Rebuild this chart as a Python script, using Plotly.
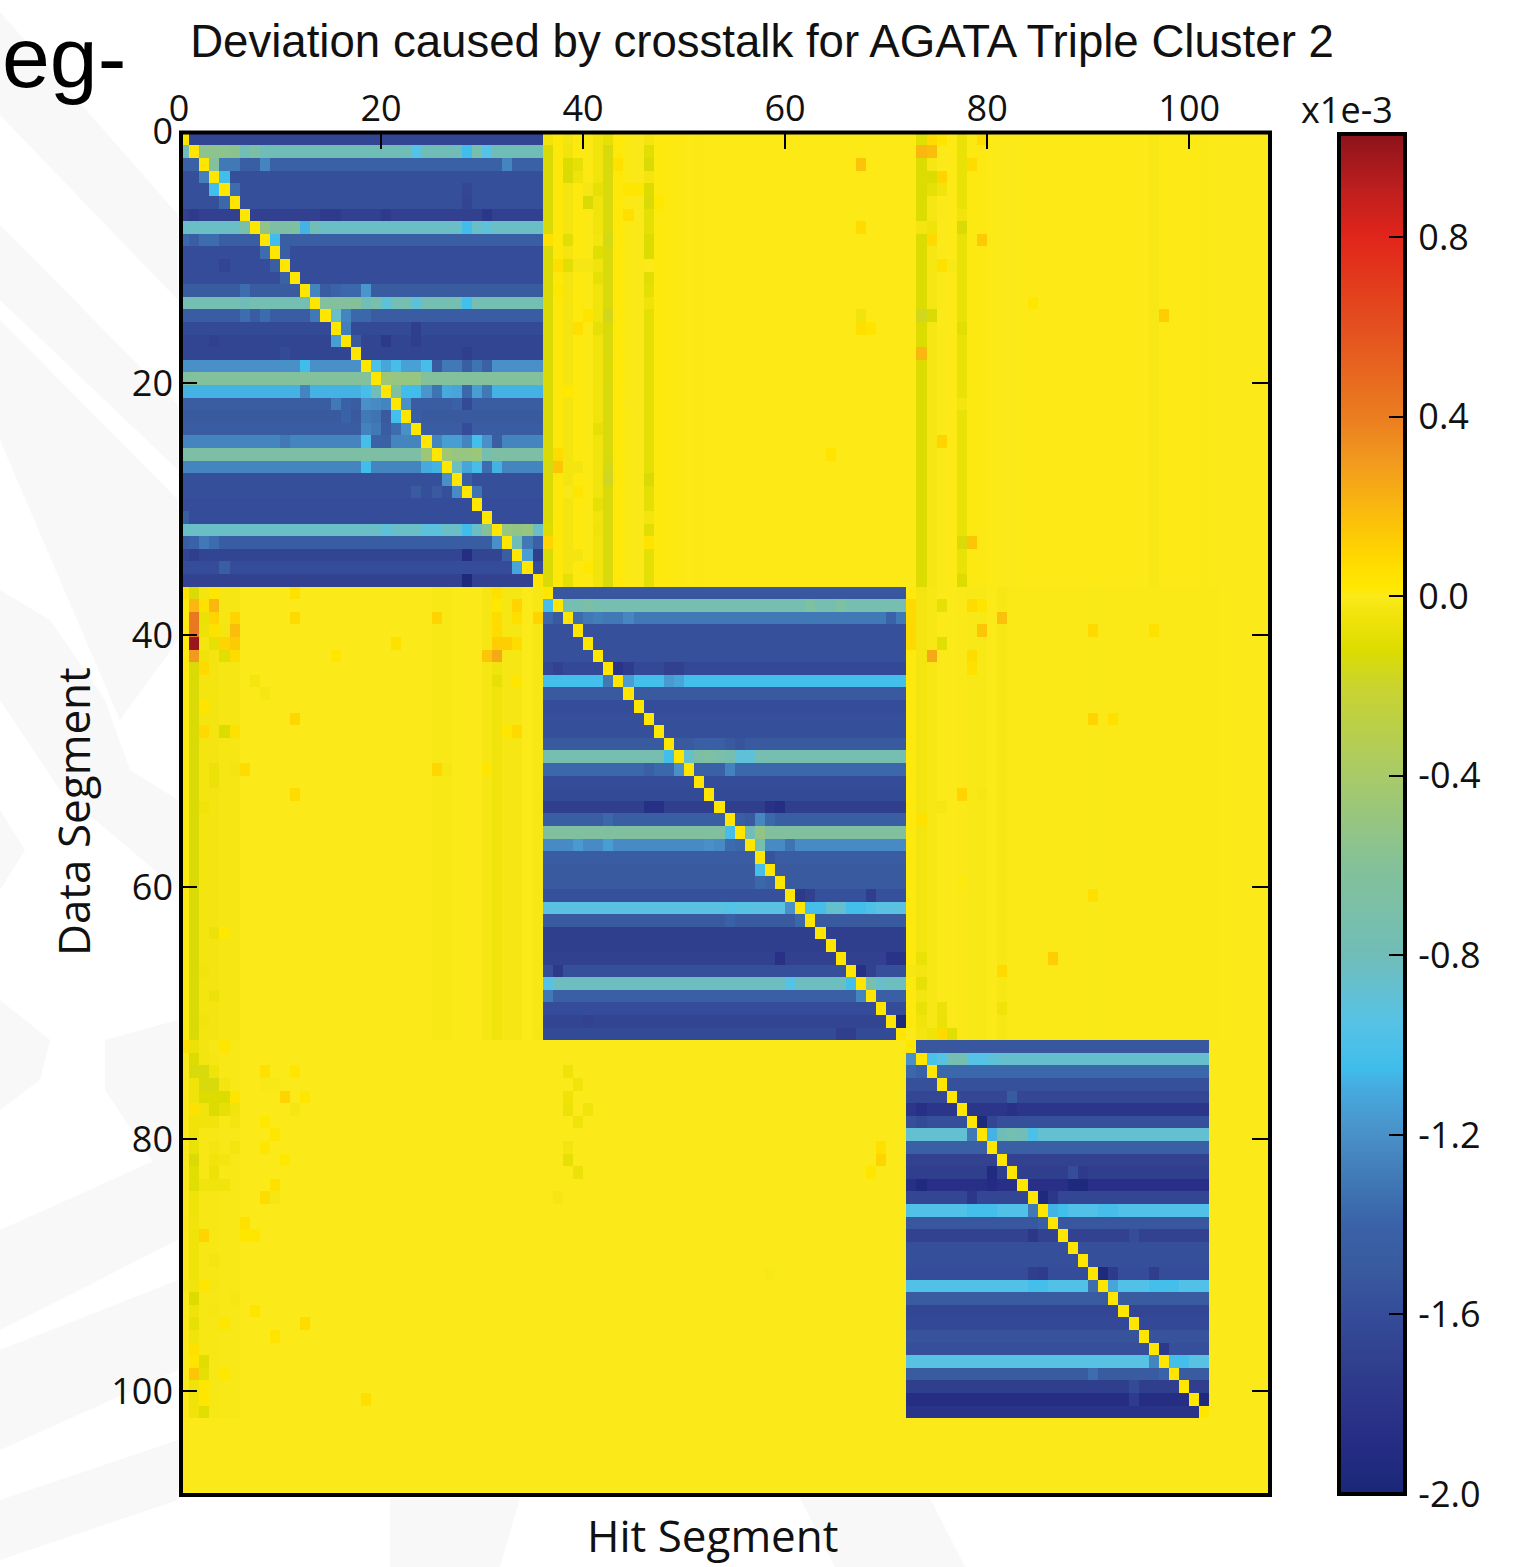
import plotly.graph_objects as go

W, H = 1527, 1567
N = 108
TITLE = "Deviation caused by crosstalk for AGATA Triple Cluster 2"
X_LABEL = "Hit Segment"
Y_LABEL = "Data Segment"
AXIS_TICKS = [0, 20, 40, 60, 80, 100]
BAR_TICKS = [0.8, 0.4, 0.0, -0.4, -0.8, -1.2, -1.6, -2.0]
BAR_LABELS = ["0.8", "0.4", "0.0", "-0.4", "-0.8", "-1.2", "-1.6", "-2.0"]
Z_MIN, Z_MAX = -2.0, 1.03
DIAGONAL = 0.03

# Level of each row inside the three crosstalk blocks
BLOCK1_ROWS = [-1.66, -0.8, -1.42, -1.58, -1.58, -1.58, -1.7, -0.84, -1.45, -1.6, -1.6, -1.6,
               -1.48, -0.76, -1.47, -1.62, -1.66, -1.66, -1.2, -0.62, -1.08, -1.47, -1.5, -1.47,
               -1.25, -0.68, -1.25, -1.58, -1.58, -1.6, -1.6, -0.84, -1.46, -1.66, -1.6, -1.68]
BLOCK2_ROWS = [-1.52, -0.75, -1.3, -1.57, -1.57, -1.57, -1.63, -1.03, -1.5, -1.6, -1.58, -1.58,
               -1.5, -0.74, -1.38, -1.6, -1.62, -1.72, -1.45, -0.63, -1.22, -1.47, -1.5, -1.5,
               -1.57, -0.93, -1.5, -1.72, -1.72, -1.7, -1.58, -0.82, -1.44, -1.6, -1.66, -1.62]
BLOCK3_ROWS = [-1.52, -0.86, -1.38, -1.57, -1.64, -1.8, -1.58, -0.88, -1.44, -1.68, -1.72, -1.85,
               -1.65, -0.97, -1.52, -1.68, -1.58, -1.58, -1.6, -0.97, -1.48, -1.65, -1.63, -1.55,
               -1.58, -0.94, -1.48, -1.72, -1.88, -1.82]

# Column levels of the near-zero regions
TOP_RIGHT_COLS = [-.13, .012, -.03, .01, .005, -.04, -.14, .012, .005, -.005, -.09, .01, .008, .005, .003, .005, .003, .003,
                  .003, .003, .003, .003, .003, .003, .003, .003, .003, .003, .003, .003, .003, .003, .003, .003, .003, .003,
                  .003, -.12, -.02, 0, .003, -.07, .006, .005, .003, -.002, -.002, .003, .003, .003, .003, .003, .003, .003,
                  .003, .003, .003, .003, .003, .003, -.015, .003, .003, .003, .003, .002, 0, 0, 0, 0, 0, 0]
MID_LEFT_COLS = [.01, -.13, -.03, -.03, -.02, -.02, 0, 0, 0, 0, 0, 0, 0, 0, 0, 0, 0, 0,
                 0, 0, 0, 0, 0, 0, 0, -.012, -.012, 0, 0, 0, -.02, -.04, -.02, -.02, 0, -.015]
MID_RIGHT_COLS = [.01, -.03, -.015, 0, 0, -.005, -.01, -.012, 0, -.015, .002, .002, .002, .002, .002, .002, .002, .002,
                  -.003, .002, .002, .002, .002, .002, .002, .002, .002, .002, .002, .002, .002, 0, 0, 0, 0, 0]
LOW_LEFT_COLS = [-.005, -.05, -.015, -.015, -.01, -.01] + [0] * 66

# Individual cells: (row, column, value)
BLOCK1_CELLS = [
    (1, 2, -.55), (1, 3, -.55), (1, 4, -.55), (1, 5, -.56), (1, 6, -.78), (1, 7, -.68), (1, 23, -.95), (1, 28, -1.05), (1, 30, -.95), (1, 29, -.72),
    (2, 3, -.62), (2, 4, -1.3), (2, 5, -1.3), (2, 8, -1.25), (2, 32, -1.25), (2, 6, -1.45), (2, 7, -1.45),
    (3, 2, -1.27), (3, 4, -1.04), (4, 3, -1.04), (4, 5, -1.35), (5, 4, -1.38), (5, 28, -1.66), (4, 28, -1.64),
    (6, 1, -1.75), (6, 20, -1.75), (6, 30, -1.78), (6, 14, -1.75), (6, 15, -1.75),
    (7, 6, -.7), (7, 8, -.52), (7, 9, -.68), (7, 10, -.68), (7, 11, -.66), (7, 12, -1.08), (7, 13, -.78), (7, 28, -1.05), (7, 30, -.9),
    (8, 2, -1.35), (8, 3, -1.35), (8, 9, -1.05), (8, 10, -1.45), (8, 11, -1.45), (8, 0, -1.38),
    (9, 8, -1.35), (9, 10, -1.45), (10, 4, -1.66), (10, 9, -1.45), (11, 10, -1.42),
    (12, 6, -1.35), (12, 13, -1.25), (12, 15, -1.4), (12, 16, -1.38), (12, 17, -1.38), (12, 18, -1.18),
    (13, 6, -.8), (13, 14, -.62), (13, 15, -.62), (13, 16, -.62), (13, 17, -.6), (13, 18, -.78), (13, 19, -.72), (13, 20, -.9), (13, 23, -.9), (13, 28, -1.03),
    (14, 6, -1.35), (14, 8, -1.36), (14, 13, -1.3), (14, 15, -.85), (14, 16, -1.25), (14, 17, -1.38), (14, 18, -1.38),
    (15, 16, -1.28), (15, 23, -1.72), (16, 15, -1.15), (16, 17, -1.5), (16, 20, -1.76), (16, 23, -1.72), (16, 3, -1.7),
    (17, 28, -1.72), (17, 10, -1.62),
    (18, 12, -1.05), (18, 19, -1.0), (18, 20, -1.12), (18, 21, -1.02), (18, 22, -1.14), (18, 23, -1.14), (18, 24, -1.02), (18, 25, -1.5), (18, 26, -1.3), (18, 27, -1.3), (18, 28, -1.45), (18, 29, -1.32), (18, 30, -1.42),
    (19, 20, -.46), (19, 21, -.5), (19, 22, -.5), (19, 23, -.5), (19, 0, -.64),
    (20, 12, -1.25), (20, 18, -1.02), (20, 19, -.78), (20, 21, -.65), (20, 22, -1.05), (20, 23, -1.05), (20, 24, -1.18), (20, 25, -1.32), (20, 26, -1.1), (20, 27, -1.12), (20, 28, -1.38), (20, 29, -1.15), (20, 30, -1.3),
    (21, 15, -1.3), (21, 16, -1.42), (21, 18, -1.2), (21, 19, -1.22), (21, 20, -1.25), (21, 22, -1.2), (21, 27, -1.42), (21, 28, -1.62),
    (22, 16, -1.4), (22, 18, -1.3), (22, 19, -1.32), (22, 21, -1.03), (22, 23, -1.45),
    (23, 18, -1.26), (23, 19, -1.3), (23, 21, -1.35), (23, 22, -1.2), (23, 28, -1.6),
    (24, 10, -1.3), (24, 18, -1.02), (24, 19, -1.4), (24, 20, -1.42), (24, 25, -1.25), (24, 26, -1.15), (24, 27, -1.15), (24, 28, -1.25), (24, 29, -1.03), (24, 30, -1.2), (24, 31, -1.45),
    (25, 24, -.46), (25, 26, -.45), (25, 27, -.5), (25, 28, -.5), (25, 29, -.47), (25, 30, -.75),
    (26, 18, -1.05), (26, 24, -1.1), (26, 25, -1.08), (26, 27, -.82), (26, 28, -1.12), (26, 29, -1.02), (26, 31, -1.08), (26, 30, -1.35),
    (27, 26, -1.2), (27, 28, -1.45), (28, 23, -1.5), (28, 25, -1.5), (28, 27, -1.22), (28, 29, -1.32),
    (30, 0, -1.45),
    (31, 20, -.9), (31, 24, -.92), (31, 25, -.92), (31, 28, -1.05), (31, 30, -.6), (31, 32, -.5), (31, 33, -.52), (31, 34, -.5),
    (32, 1, -1.4), (32, 2, -1.3), (32, 3, -1.36), (32, 31, -1.2), (32, 33, -.8), (32, 34, -1.3), (32, 35, -1.42),
    (33, 28, -1.88), (33, 32, -1.45), (33, 34, -1.15), (33, 35, -1.72), (33, 1, -1.72),
    (34, 4, -1.45), (34, 33, -1.12), (35, 28, -1.95),
]
BLOCK2_CELLS = [
    (37, 36, -1.02), (37, 40, -.68), (37, 62, -.66), (37, 65, -.66),
    (38, 36, -1.38), (38, 37, -1.5), (38, 39, -1.36), (38, 41, -1.28), (38, 44, -1.24), (38, 70, -1.4),
    (42, 37, -1.68), (42, 43, -1.82), (42, 44, -1.74), (42, 48, -1.7), (42, 49, -1.7),
    (43, 42, -1.3), (43, 44, -1.15), (43, 48, -1.16), (43, 49, -1.12),
    (44, 42, -1.5), (48, 51, -1.44), (48, 52, -1.44), (48, 53, -1.44), (48, 55, -1.55),
    (49, 48, -1.04), (49, 50, -.86), (49, 55, -.9), (49, 56, -.9), (49, 51, -.68), (49, 52, -.66), (49, 53, -.7),
    (50, 49, -1.2), (50, 51, -1.42), (50, 52, -1.42), (50, 53, -1.42), (50, 54, -1.26), (50, 46, -1.44),
    (53, 46, -1.86), (53, 47, -1.86), (53, 58, -1.84), (53, 59, -1.88),
    (54, 42, -1.38), (54, 56, -1.5), (54, 57, -1.24), (54, 58, -1.38),
    (55, 54, -1.02), (55, 56, -.78), (55, 57, -.52),
    (56, 39, -1.16), (56, 42, -1.15), (56, 52, -1.2), (56, 53, -1.22), (56, 54, -1.36), (56, 55, -1.38), (56, 57, -.75), (56, 58, -1.22), (56, 59, -1.22), (56, 60, -1.32),
    (57, 58, -1.55), (58, 57, -1.02), (59, 57, -1.38), (59, 58, -1.4),
    (60, 61, -1.76), (60, 62, -1.7), (60, 68, -1.72),
    (61, 54, -.96), (61, 55, -.94), (61, 56, -.94), (61, 60, -1.2), (61, 62, -1.02), (61, 63, -1.02), (61, 64, -.86), (61, 65, -.86), (61, 66, -1.03), (61, 67, -1.03), (61, 68, -.98),
    (62, 54, -1.42), (62, 61, -1.38), (65, 59, -1.84), (65, 70, -1.82), (65, 71, -1.82),
    (66, 37, -1.76), (66, 67, -1.86), (66, 68, -1.7),
    (67, 36, -.95), (67, 60, -.95), (67, 66, -1.03), (67, 68, -.72), (67, 69, -.85),
    (68, 36, -1.3), (68, 67, -1.25), (70, 71, -1.96), (70, 40, -1.68), (71, 65, -1.72), (71, 66, -1.72),
]
BLOCK3_CELLS = [
    (73, 72, -1.2), (73, 74, -1.0), (73, 75, -.94), (73, 76, -.76), (73, 77, -.76), (73, 78, -.95), (73, 79, -.95), (73, 80, -.9),
    (74, 73, -1.42), (76, 82, -1.48), (77, 82, -1.84), (77, 73, -1.85),
    (78, 79, -1.96), (78, 80, -1.65), (78, 73, -1.62),
    (79, 78, -1.3), (79, 80, -1.08), (79, 81, -.8), (79, 82, -.76), (79, 83, -.78), (79, 84, -1.0), (79, 91, -.88),
    (82, 80, -1.92), (82, 88, -1.6), (82, 89, -1.75), (83, 73, -1.93), (83, 88, -1.96), (83, 89, -1.96), (83, 80, -1.9),
    (84, 85, -1.96), (84, 86, -1.78), (84, 78, -1.78),
    (85, 78, -1.03), (85, 79, -1.03), (85, 80, -1.03), (85, 84, -1.3), (85, 86, -1.08), (85, 87, -1.04), (85, 91, -1.02), (85, 92, -1.02),
    (86, 85, -1.45), (87, 84, -1.78), (87, 94, -1.6), (90, 84, -1.72), (90, 85, -1.74), (90, 91, -1.96), (90, 92, -1.75), (90, 96, -1.72),
    (91, 84, -1.03), (91, 85, -1.03), (91, 90, -1.35), (91, 92, -1.12), (91, 96, -1.03), (91, 97, -1.03), (91, 98, -1.03),
    (96, 97, -1.76), (97, 96, -1.25), (97, 98, -1.03), (97, 99, -1.03),
    (98, 90, -1.35), (98, 97, -1.4), (99, 94, -1.62), (100, 94, -1.74), (100, 101, -1.95),
]
TOP_RIGHT_CELLS = [
    (0, 36, -.04), (0, 42, -.08), (0, 46, -.03), (0, 73, -.1), (0, 74, .07), (0, 75, .04), (0, 79, .07),
    (1, 38, -.04), (1, 46, -.1), (1, 73, .2), (1, 74, .18), (1, 77, -.07),
    (2, 38, -.12), (2, 39, -.08), (2, 43, .05), (2, 46, -.13), (2, 67, .16), (2, 78, .07),
    (3, 38, -.13), (3, 39, -.05), (3, 74, -.12), (3, 75, .1), (3, 46, -.03),
    (4, 40, -.02), (4, 41, -.08), (4, 44, .03), (4, 45, .03), (4, 46, -.12), (4, 74, -.08), (4, 75, -.04),
    (5, 40, -.13), (5, 46, -.13), (5, 47, .02), (6, 38, -.03), (6, 44, .06), (6, 77, -.04),
    (7, 67, .07), (7, 73, -.03), (7, 74, -.05), (7, 77, -.13),
    (8, 36, .05), (8, 38, -.1), (8, 41, -.03), (8, 42, -.16), (8, 46, -.12), (8, 74, .08), (8, 79, .13),
    (9, 41, -.1), (9, 46, -.12), (10, 37, .06), (10, 38, -.1), (10, 39, -.02), (10, 40, -.02), (10, 46, 0), (10, 75, .05), (10, 76, -.01),
    (11, 46, -.1), (11, 41, -.08), (12, 37, .03), (13, 84, .03), (13, 46, -.05),
    (14, 42, -.17), (14, 40, .04), (14, 73, -.17), (14, 74, -.13), (14, 97, .12), (14, 67, -.04),
    (15, 39, .06), (15, 41, -.08), (15, 67, .06), (15, 68, .04), (15, 77, -.1),
    (17, 73, .2), (17, 74, -.02), (18, 42, -.13), (20, 38, .02), (21, 44, -.005), (21, 77, -.03),
    (23, 41, -.08), (25, 37, .07), (25, 64, .04), (26, 36, -.14), (26, 37, .15), (26, 39, -.03), (26, 42, -.16), (24, 75, .1),
    (27, 42, -.18), (27, 46, -.13), (29, 41, -.08), (28, 38, -.01), (28, 39, .03), (30, 46, -.03),
    (31, 36, -.12), (31, 41, -.05), (31, 46, -.1), (31, 74, -.02), (32, 36, .1), (32, 46, .04), (32, 77, -.13), (32, 78, .15),
    (33, 39, -.03), (34, 40, .02), (35, 38, -.08), (35, 46, -.09), (35, 77, -.12), (35, 42, -.14),
]
MID_CELLS = [
    (36, 0, .05), (36, 3, .03), (36, 4, -.02), (36, 11, .05), (36, 31, .05),
    (37, 1, .2), (37, 2, .05), (37, 3, .2), (37, 33, .1), (37, 31, .02), (37, 72, .08), (37, 75, -.08), (37, 78, .07), (37, 79, .04),
    (38, 1, .42), (38, 2, -.07), (38, 3, .1), (38, 5, .1), (38, 11, .08), (38, 25, .1), (38, 31, .07), (38, 33, .06), (38, 35, .1), (38, 81, .17), (38, 72, .08),
    (39, 1, .42), (39, 2, -.06), (39, 3, .05), (39, 4, -.03), (39, 5, .18), (39, 31, .07), (39, 72, .08), (39, 79, .15), (39, 90, .08), (39, 96, .05),
    (40, 1, 1.0), (40, 2, -.03), (40, 3, -.08), (40, 4, .1), (40, 5, .13), (40, 21, .05), (40, 31, .12), (40, 32, .12), (40, 33, .07), (40, 75, -.1), (40, 72, .08),
    (41, 1, .3), (41, 2, -.05), (41, 3, -.03), (41, 4, -.1), (41, 5, .07), (41, 15, .03), (41, 30, .15), (41, 31, .25), (41, 74, .25), (41, 78, .07),
    (42, 2, .08), (42, 78, .05), (43, 7, -.03), (43, 31, -.08), (43, 33, .03), (44, 8, -.02), (45, 2, .04), (46, 11, .09), (46, 90, .1), (46, 92, .05),
    (47, 2, .08), (47, 4, -.12), (47, 5, .05), (47, 32, .03), (47, 33, .08),
    (50, 3, -.06), (50, 5, -.03), (50, 6, .07), (50, 25, .09), (50, 26, -.02), (50, 30, .03), (51, 3, -.06), (52, 11, .07), (52, 77, .1), (52, 79, -.02),
    (53, 2, -.05), (53, 75, -.02), (54, 72, .01), (54, 73, .05), (59, 77, .01), (60, 90, .06),
    (63, 3, -.06), (63, 4, .02), (66, 2, -.04), (66, 72, -.02), (65, 73, -.07), (65, 86, .12), (66, 81, .08), (67, 73, -.08),
    (68, 3, -.06), (69, 73, -.07), (69, 75, -.06), (69, 81, -.05), (70, 75, -.07), (70, 73, -.04), (70, 2, -.04), (71, 75, .08), (71, 76, -.1), (71, 74, -.05),
]
LOW_CELLS = [
    (72, 0, .06), (72, 1, -.06), (72, 2, -.03), (72, 4, .03),
    (73, 1, -.12), (73, 2, -.03), (73, 3, -.02), (74, 1, -.14), (74, 2, -.14), (74, 3, -.05), (74, 8, .05), (74, 11, .03),
    (75, 2, -.14), (75, 3, -.14), (75, 4, -.03), (75, 8, -.01), (75, 9, -.01),
    (76, 2, -.12), (76, 3, -.12), (76, 4, -.12), (76, 5, .04), (76, 10, .1), (76, 12, .03),
    (77, 1, .05), (77, 2, -.04), (77, 3, -.12), (77, 4, -.08), (77, 5, -.04), (77, 11, -.02), (78, 2, -.04), (78, 3, -.04), (78, 5, -.03), (78, 8, .02),
    (79, 9, .03), (80, 1, -.07), (80, 3, -.03), (80, 5, -.03), (80, 8, .03), (81, 1, -.13), (81, 3, -.04), (81, 4, -.03), (81, 10, .02),
    (82, 1, -.1), (82, 3, -.06), (83, 1, -.1), (83, 2, -.04), (83, 3, -.04), (83, 4, -.04), (83, 9, .05), (84, 8, .07), (84, 9, -.02),
    (86, 1, -.04), (86, 6, .05), (87, 2, .1), (87, 6, .03), (87, 7, .03), (89, 3, -.03), (91, 0, -.02), (91, 1, -.04), (91, 2, .03), (91, 3, -.02),
    (92, 1, -.12), (92, 5, -.02), (93, 1, -.05), (93, 3, -.02), (93, 7, .04), (94, 1, -.08), (94, 4, .03), (94, 12, .07), (95, 1, -.04), (95, 9, .04),
    (96, 1, .05), (97, 1, .04), (97, 2, -.11), (98, 1, .15), (98, 2, -.09), (98, 4, .02), (99, 2, .03), (100, 2, .03), (100, 18, .06), (101, 2, -.1),
    (74, 38, -.05), (75, 39, -.04), (76, 38, -.05), (77, 38, -.06), (77, 40, -.04), (78, 39, -.05), (80, 38, -.03), (81, 38, -.08), (82, 39, -.06),
    (80, 69, .05), (81, 69, .1), (82, 68, .03), (84, 37, -.02), (90, 58, -.01),
]

COLOR_STOPS = [(-2.0, "#1a2878"), (-1.9, "#232c82"), (-1.8, "#2b3589"), (-1.7, "#31408f"), (-1.6, "#344c99"),
               (-1.5, "#395a9f"), (-1.4, "#3a62a8"), (-1.3, "#4079b6"), (-1.2, "#4a90c8"), (-1.1, "#46aade"),
               (-1.05, "#40bdeb"), (-0.95, "#56c2e6"), (-0.85, "#68bfc9"), (-0.8, "#70bdb8"), (-0.6, "#84c199"),
               (-0.4, "#a8ca68"), (-0.2, "#cad42e"), (-0.12, "#dcdc00"), (-0.05, "#efe30a"), (0.0, "#fbe91a"),
               (0.02, "#ffe800"), (0.06, "#ffdf00"), (0.1, "#ffd400"), (0.2, "#f9b70f"), (0.3, "#f19a1e"),
               (0.4, "#eb7d20"), (0.6, "#e4501f"), (0.8, "#e1251a"), (0.9, "#c01f1e"), (1.03, "#8c131b")]

# Very faint decoration behind the chart, page pixels
WATERMARK = [
    [(0, 12), (130, 160), (178, 215), (178, 300), (0, 115)],
    [(0, 225), (178, 405), (178, 470), (0, 300)],
    [(0, 320), (178, 500), (178, 640), (120, 720), (0, 440)],
    [(0, 590), (50, 620), (105, 700), (130, 770), (178, 800), (178, 890), (60, 790), (0, 700)],
    [(0, 810), (25, 850), (0, 890)],
    [(0, 1000), (50, 1040), (40, 1080), (0, 1110)],
    [(105, 1040), (178, 1020), (178, 1200), (105, 1090)],
    [(0, 1230), (178, 1150), (178, 1240), (0, 1330)],
    [(0, 1350), (178, 1280), (178, 1370), (0, 1450)],
    [(0, 1500), (178, 1440), (178, 1500), (0, 1560)],
    [(390, 1498), (520, 1498), (500, 1567), (390, 1567)],
    [(800, 1498), (930, 1498), (965, 1567), (835, 1567)],
]

z = [[0.0] * N for _ in range(N)]
for c, v in enumerate(TOP_RIGHT_COLS):
    for r in range(36):
        z[r][c + 36] = v
for c, v in enumerate(MID_LEFT_COLS):
    for r in range(36, 72):
        z[r][c] = v
for c, v in enumerate(MID_RIGHT_COLS):
    for r in range(36, 72):
        z[r][c + 72] = v
for c, v in enumerate(LOW_LEFT_COLS):
    for r in range(72, 102):
        z[r][c] = v
for start, rows in ((0, BLOCK1_ROWS), (36, BLOCK2_ROWS), (72, BLOCK3_ROWS)):
    for i, v in enumerate(rows):
        for j in range(len(rows)):
            z[start + i][start + j] = v
for cells in (BLOCK1_CELLS, BLOCK2_CELLS, BLOCK3_CELLS, TOP_RIGHT_CELLS, MID_CELLS, LOW_CELLS):
    for r, c, v in cells:
        z[r][c] = v
for i in range(102):
    z[i][i] = DIAGONAL
z[71][72] = 0.0
z[101][100] = BLOCK3_ROWS[29]

# The image sits a fraction of a cell below the axis ticks in the reference
ROW_OFFSET = 0.15
x_centers = [i + 0.5 for i in range(N)]
y_centers = [i + 0.5 + ROW_OFFSET for i in range(N)]
colorscale = [[(v - Z_MIN) / (Z_MAX - Z_MIN), col] for v, col in COLOR_STOPS]

PX = lambda x: x / W
PY = lambda y: 1 - y / H
TICK_FONT = dict(family="Open Sans", size=36, color="#111111")

fig = go.Figure(go.Heatmap(
    x=x_centers, y=y_centers, z=z, zmin=Z_MIN, zmax=Z_MAX, colorscale=colorscale, hoverinfo="skip",
    colorbar=dict(
        lenmode="pixels", len=1360, thicknessmode="pixels", thickness=66,
        x=PX(1339), xanchor="left", y=PY(134), yanchor="top", xpad=0, ypad=0,
        outlinewidth=4, outlinecolor="black", ticks="inside", ticklen=18, tickwidth=2, tickcolor="black",
        tickvals=BAR_TICKS, ticktext=["\u200a" + t for t in BAR_LABELS], tickfont=TICK_FONT,
    ),
))

shapes = [dict(type="path", xref="paper", yref="paper", layer="below", line_width=0, fillcolor="#f8f8f8",
               path="M" + "L".join(f"{PX(x)},{PY(y)}" for x, y in poly) + "Z") for poly in WATERMARK]
shapes.append(dict(type="rect", xref="paper", yref="paper", x0=PX(181), x1=PX(1270), y0=PY(1495), y1=PY(132.5),
                   line=dict(color="black", width=4), layer="above"))

annotations = [
    dict(text=X_LABEL, x=PX(713), y=PY(1535), font=dict(family="Open Sans", size=44, color="#111111")),
    dict(text=Y_LABEL, x=PX(73), y=PY(812), textangle=-90, font=dict(family="Open Sans", size=44, color="#111111")),
    dict(text="x1e-3", x=PX(1347), y=PY(109), font=dict(family="Open Sans", size=36, color="#111111")),
    dict(text="eg-", x=PX(64), y=PY(57), font=dict(family="Liberation Sans", size=86, color="black")),
]
for a in annotations:
    a.update(xref="paper", yref="paper", showarrow=False, xanchor="center", yanchor="middle")

fig.update_layout(
    width=W, height=H, margin=dict(l=0, r=0, t=0, b=0, pad=0), paper_bgcolor="white", plot_bgcolor="#fbe91a",
    title=dict(text=TITLE, x=PX(762), y=PY(41), xanchor="center", yanchor="middle", xref="paper", yref="paper",
               font=dict(family="Liberation Sans", size=45.6, color="#111111")),
    xaxis=dict(domain=[PX(179), PX(1270)], range=[0, 108], side="top", tickvals=AXIS_TICKS, ticks="inside", ticklen=18,
               tickwidth=2, tickcolor="black", tickfont=TICK_FONT, showgrid=False, zeroline=False, showline=False,
               ticklabelstandoff=2, automargin=False),
    yaxis=dict(domain=[PY(1495), PY(131)], range=[108.25, 0], tickvals=AXIS_TICKS, ticks="inside", ticklen=18,
               tickwidth=2, tickcolor="black", tickfont=TICK_FONT, showgrid=False, zeroline=False, showline=False, mirror="ticks",
               ticklabelstandoff=5, automargin=False),
    shapes=shapes, annotations=annotations,
)
fig.write_html("out.html", config=dict(displayModeBar=False),
               post_script="document.body.style.margin='0';")
